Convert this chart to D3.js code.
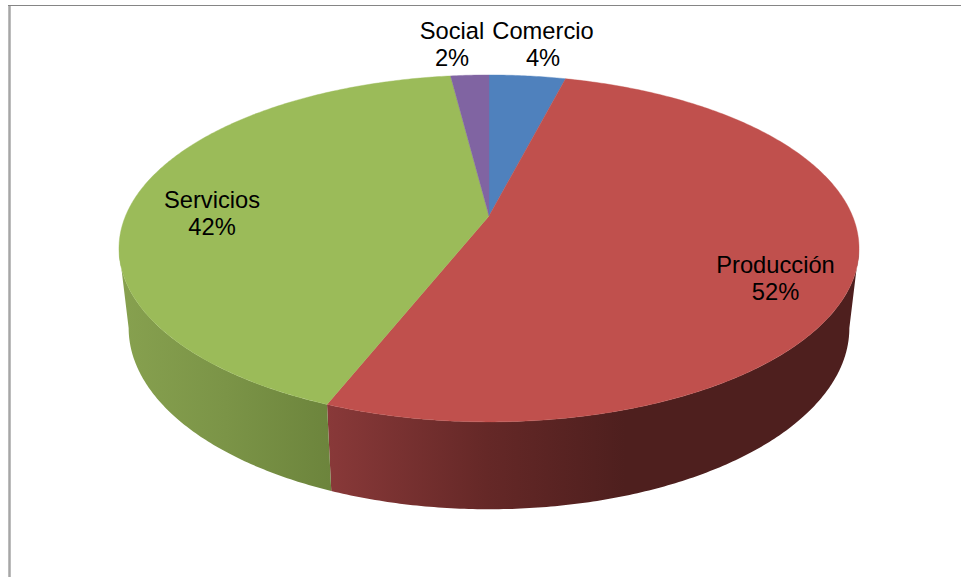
<!DOCTYPE html>
<html>
<head>
<meta charset="utf-8">
<script src="https://cdn.jsdelivr.net/npm/d3@7/dist/d3.min.js"></script>
<style>
  html, body { margin: 0; padding: 0; background: #fff; }
  svg { display: block; }
  text { font-family: "Liberation Sans", Arial, sans-serif; font-size: 23.7px; fill: #000; text-anchor: middle; }
</style>
</head>
<body>
<svg id="chart" width="961" height="577"></svg>
<script>
// Sector shares in percent
const sectors = ["Comercio", "Producción", "Servicios", "Social"];
const shares = [4, 52, 42, 2];
const topColors = ["#4f81bd", "#c0504d", "#9bbb59", "#8064a2"];

// Centre of each two-line label
const labelCenters = [[543, 31], [775.5, 265], [212, 200], [452, 31]];

// Perspective disc: a circle on a tilted plane, seen from above
const topDisc = { cx: 489, cy: 216, a: 363.5, b: 167.4, k: 0.187 };
const baseDisc = { cx: 489, cy: 294, a: 354, b: 175, k: 0.187 };

function project(disc, theta) {
  const u = Math.sin(theta), v = -Math.cos(theta);
  const w = 1 - disc.k * v;
  return [disc.cx + disc.a * u / w, disc.cy + disc.b * v / w];
}

function arcPoints(disc, start, end) {
  const n = Math.max(2, Math.ceil(Math.abs(end - start) / 0.01));
  return d3.range(n + 1).map(i => project(disc, start + (end - start) * i / n));
}

const svg = d3.select("#chart");
const line = d3.line();
const arcs = d3.pie().sort(null).value(d => d)(shares);

// Chart frame: only the top and left edges show
svg.append("path")
  .attr("d", "M9.5,577V5")
  .attr("fill", "none").attr("stroke", "#a6a6a6").attr("stroke-width", 2.5);
svg.append("path")
  .attr("d", "M8,5.5H961")
  .attr("fill", "none").attr("stroke", "#858585").attr("stroke-width", 1);

// Side-wall shading runs left to right across the page
const defs = svg.append("defs");
function wallGradient(id, x0, x1, stops) {
  const g = defs.append("linearGradient").attr("id", id)
    .attr("gradientUnits", "userSpaceOnUse")
    .attr("x1", x0).attr("x2", x1).attr("y1", 0).attr("y2", 0);
  stops.forEach(([o, c]) => g.append("stop").attr("offset", o).attr("stop-color", c));
}
wallGradient("wall-1", 327, 859, [[0, "#893939"], [0.3, "#652827"], [0.56, "#4e1f1e"], [1, "#4e1f1e"]]);
wallGradient("wall-2", 119, 332, [[0, "#87a14f"], [0.5, "#7b9447"], [1, "#6c843c"]]);

// Only the part of the wall facing the viewer is visible
const silhouette = Math.asin(topDisc.k);
const frontStart = Math.PI / 2 + silhouette;
const frontEnd = 3 * Math.PI / 2 - silhouette;

arcs.forEach((d, i) => {
  const s = Math.max(d.startAngle, frontStart), e = Math.min(d.endAngle, frontEnd);
  if (s >= e) return;
  const upper = arcPoints(topDisc, s, e);
  const lower = arcPoints(baseDisc, e, s);
  svg.append("path")
    .attr("d", line(upper.concat(lower)) + "Z")
    .attr("fill", `url(#wall-${i})`);
});

// Top face
arcs.forEach((d, i) => {
  const rim = arcPoints(topDisc, d.startAngle, d.endAngle);
  svg.append("path")
    .attr("d", line([[topDisc.cx, topDisc.cy]].concat(rim)) + "Z")
    .attr("fill", topColors[i])
    .attr("stroke", topColors[i]).attr("stroke-width", 0.4);
});

// Labels
sectors.forEach((name, i) => {
  const [x, y] = labelCenters[i];
  const t = svg.append("text").attr("x", x).attr("y", y + 8);
  t.append("tspan").attr("x", x).text(name);
  t.append("tspan").attr("x", x).attr("dy", 27).text(`${shares[i]}%`);
});
</script>
</body>
</html>
